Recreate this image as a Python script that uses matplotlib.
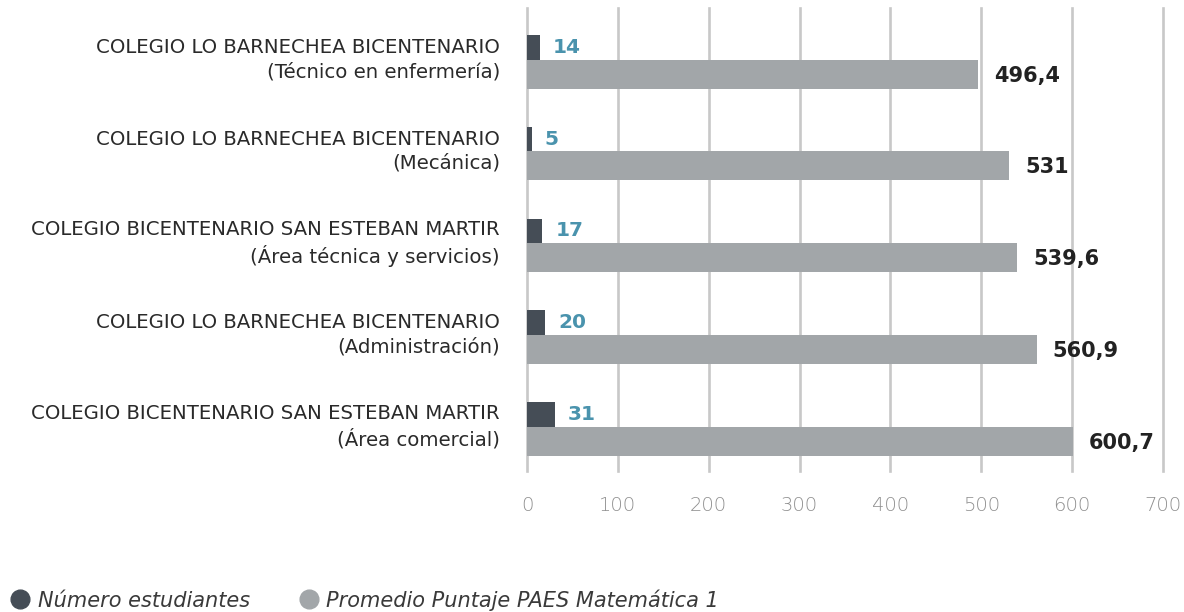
import matplotlib
matplotlib.use("Agg")
import matplotlib.pyplot as plt
from matplotlib.lines import Line2D
from matplotlib.transforms import offset_copy, ScaledTranslation

categories = [
    "COLEGIO LO BARNECHEA BICENTENARIO\n(Técnico en enfermería)",
    "COLEGIO LO BARNECHEA BICENTENARIO\n(Mecánica)",
    "COLEGIO BICENTENARIO SAN ESTEBAN MARTIR\n(Área técnica y servicios)",
    "COLEGIO LO BARNECHEA BICENTENARIO\n(Administración)",
    "COLEGIO BICENTENARIO SAN ESTEBAN MARTIR\n(Área comercial)",
]
students = [14, 5, 17, 20, 31]
scores = [496.4, 531, 539.6, 560.9, 600.7]
score_labels = ["496,4", "531", "539,6", "560,9", "600,7"]
xticks = [0, 100, 200, 300, 400, 500, 600, 700]
series_names = ["Número estudiantes", "Promedio Puntaje PAES Matemática 1"]

DARK = "#454d56"
GRAY = "#a2a6a9"
BLUE = "#4a93ad"
FONT = "DejaVu Sans"

W, H = 1184, 612
fig = plt.figure(figsize=(W / 100, H / 100), dpi=100)
ax = fig.add_axes([527 / W, (H - 471) / H, (1163 - 527) / W, (471 - 8) / H])

ypos = list(range(len(categories)))
off = 0.145
ax.barh([y - off for y in ypos], students, height=0.27, color=DARK, zorder=3)
ax.barh([y + off for y in ypos], scores, height=0.316, color=GRAY, zorder=3)

t1 = offset_copy(ax.transData, fig=fig, x=13, y=0, units="dots")
t2 = offset_copy(ax.transData, fig=fig, x=16, y=-1.5, units="dots")
for y, v in zip(ypos, students):
    ax.text(v, y - off, str(v), transform=t1, ha="left", va="center",
            color=BLUE, fontsize=14.5, fontweight="bold", family=FONT)
for y, v, s in zip(ypos, scores, score_labels):
    ax.text(v, y + off, s, transform=t2, ha="left", va="center",
            color="#222222", fontsize=15, fontweight="bold", family=FONT)

ax.set_xlim(0, 700)
ax.set_ylim(4.471, -0.575)
ax.set_xticks(xticks)
ax.set_xticklabels([str(t) for t in xticks], color="#8f8f8f", fontsize=14,
                   family=FONT, fontweight="light")
ax.set_yticks(ypos)
ax.set_yticklabels(categories, fontsize=14.2, color="#2a2a2a", family=FONT, linespacing=1.36)
ax.tick_params(axis="x", length=0, pad=18)
ax.tick_params(axis="y", length=0, pad=19.5)
shift = ScaledTranslation(0, 6 / 100, fig.dpi_scale_trans)
for lab in ax.get_yticklabels():
    lab.set_horizontalalignment("right")
    lab.set_transform(lab.get_transform() + shift)
for sp in ax.spines.values():
    sp.set_visible(False)
ax.grid(axis="x", color="#c8c8c8", linewidth=1.9, zorder=0)
ax.set_axisbelow(True)
for gl in ax.get_xgridlines():
    gl.set_clip_on(False)

handles = [Line2D([], [], marker="o", linestyle="none", markersize=13.5, color=c) for c in (DARK, GRAY)]
fig.legend(handles, series_names, loc="center left", bbox_to_anchor=(12 / W, 12 / H),
           ncol=2, frameon=False, handletextpad=0.45, columnspacing=2.45,
           borderpad=0, borderaxespad=0, handlelength=0.78,
           prop={"family": FONT, "style": "italic", "size": 15}, labelcolor="#3a3a3a")

fig.savefig("out.png", dpi=100)
